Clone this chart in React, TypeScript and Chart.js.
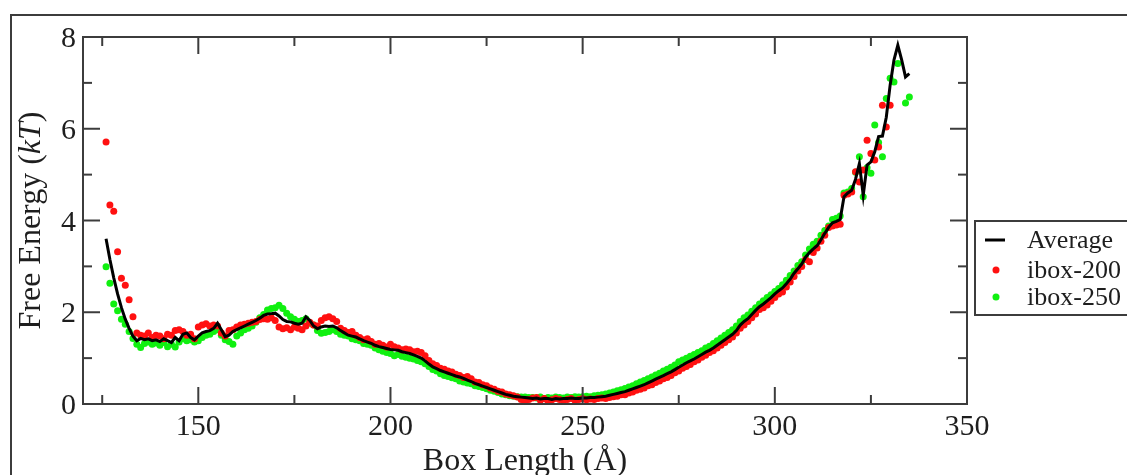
import React, { useEffect, useRef } from 'react';
import { Chart, registerables } from 'chart.js';

Chart.register(...registerables);

// Box length (Å) sampled along the x axis
const BOX_LENGTH = [
  126, 127, 128, 129, 130, 131, 132, 133, 134, 135,
  136, 137, 138, 139, 140, 141, 142, 143, 144, 145,
  146, 147, 148, 149, 150, 151, 152, 153, 154, 155,
  156, 157, 158, 159, 160, 161, 162, 163, 164, 165,
  166, 167, 168, 169, 170, 171, 172, 173, 174, 175,
  176, 177, 178, 179, 180, 181, 182, 183, 184, 185,
  186, 187, 188, 189, 190, 191, 192, 193, 194, 195,
  196, 197, 198, 199, 200, 201, 202, 203, 204, 205,
  206, 207, 208, 209, 210, 211, 212, 213, 214, 215,
  216, 217, 218, 219, 220, 221, 222, 223, 224, 225,
  226, 227, 228, 229, 230, 231, 232, 233, 234, 235,
  236, 237, 238, 239, 240, 241, 242, 243, 244, 245,
  246, 247, 248, 249, 250, 251, 252, 253, 254, 255,
  256, 257, 258, 259, 260, 261, 262, 263, 264, 265,
  266, 267, 268, 269, 270, 271, 272, 273, 274, 275,
  276, 277, 278, 279, 280, 281, 282, 283, 284, 285,
  286, 287, 288, 289, 290, 291, 292, 293, 294, 295,
  296, 297, 298, 299, 300, 301, 302, 303, 304, 305,
  306, 307, 308, 309, 310, 311, 312, 313, 314, 315,
  316, 317, 318, 319, 320, 321, 322, 323, 324, 325,
  326, 327, 328, 329, 330, 331, 332, 333, 334, 335,
];

// Free energy (kT) – average curve
const AVERAGE = [
  3.60, 3.15, 2.75, 2.40, 2.10, 1.85, 1.65, 1.48, 1.38, 1.43,
  1.40, 1.42, 1.38, 1.40, 1.36, 1.42, 1.38, 1.34, 1.45, 1.38,
  1.52, 1.55, 1.45, 1.40, 1.48, 1.55, 1.58, 1.60, 1.65, 1.76,
  1.62, 1.47, 1.50, 1.58, 1.62, 1.66, 1.70, 1.74, 1.78, 1.82,
  1.87, 1.93, 1.96, 1.97, 1.98, 1.92, 1.84, 1.80, 1.79, 1.76,
  1.74, 1.76, 1.90, 1.82, 1.70, 1.64, 1.68, 1.70, 1.69, 1.70,
  1.66, 1.60, 1.55, 1.50, 1.48, 1.46, 1.42, 1.38, 1.35, 1.32,
  1.28, 1.25, 1.23, 1.21, 1.19, 1.18, 1.17, 1.14, 1.12, 1.10,
  1.07, 1.04, 1.00, 0.94, 0.87, 0.81, 0.77, 0.73, 0.70, 0.67,
  0.64, 0.61, 0.59, 0.56, 0.52, 0.49, 0.45, 0.42, 0.39, 0.36,
  0.33, 0.30, 0.27, 0.24, 0.21, 0.19, 0.17, 0.16, 0.15, 0.14,
  0.13, 0.12, 0.13, 0.11, 0.12, 0.12, 0.10, 0.12, 0.11, 0.12,
  0.12, 0.13, 0.12, 0.12, 0.13, 0.13, 0.14, 0.14, 0.15, 0.16,
  0.17, 0.19, 0.21, 0.23, 0.25, 0.27, 0.30, 0.33, 0.36, 0.39,
  0.42, 0.46, 0.50, 0.54, 0.58, 0.62, 0.66, 0.70, 0.75, 0.80,
  0.85, 0.90, 0.94, 0.98, 1.03, 1.08, 1.13, 1.17, 1.22, 1.28,
  1.34, 1.40, 1.46, 1.52, 1.60, 1.72, 1.80, 1.86, 1.95, 2.04,
  2.12, 2.18, 2.25, 2.32, 2.40, 2.47, 2.53, 2.62, 2.72, 2.85,
  2.95, 3.05, 3.20, 3.30, 3.38, 3.45, 3.58, 3.72, 3.85, 3.95,
  3.98, 4.02, 4.52, 4.60, 4.66, 4.90, 5.24, 4.55, 5.21, 5.28,
  5.50, 5.83, 5.84, 6.25, 6.95, 7.50, 7.82, 7.50, 7.13, 7.20,
];

// Free energy (kT) – ibox-200 run
const IBOX_200 = [
  5.71, 4.34, 4.20, 3.32, 2.74, 2.59, 2.27, 1.90, 1.55, 1.50,
  1.48, 1.55, 1.45, 1.50, 1.48, 1.42, 1.52, 1.50, 1.60, 1.62,
  1.58, 1.50, 1.52, 1.42, 1.68, 1.72, 1.75, 1.70, 1.72, 1.70,
  1.55, 1.48, 1.60, 1.62, 1.68, 1.72, 1.74, 1.76, 1.78, 1.80,
  1.84, 1.86, 1.85, 1.88, 1.82, 1.68, 1.64, 1.66, 1.62, 1.68,
  1.65, 1.62, 1.70, 1.78, 1.72, 1.70, 1.82, 1.88, 1.90, 1.86,
  1.80, 1.65, 1.60, 1.56, 1.58, 1.50, 1.45, 1.40, 1.42, 1.36,
  1.30, 1.32, 1.28, 1.24, 1.30, 1.25, 1.22, 1.18, 1.20, 1.18,
  1.14, 1.15, 1.12, 1.05, 0.95, 0.88, 0.84, 0.78, 0.76, 0.72,
  0.70, 0.65, 0.62, 0.58, 0.60, 0.55, 0.48, 0.47, 0.42, 0.40,
  0.35, 0.32, 0.28, 0.26, 0.22, 0.20, 0.18, 0.15, 0.10, 0.05,
  0.10, 0.13, 0.14, 0.08, 0.12, 0.05, 0.09, 0.12, 0.10, 0.07,
  0.10, 0.12, 0.08, 0.10, 0.12, 0.09, 0.11, 0.10, 0.12, 0.13,
  0.12, 0.14, 0.16, 0.17, 0.20, 0.20, 0.24, 0.26, 0.30, 0.32,
  0.35, 0.40, 0.42, 0.47, 0.50, 0.55, 0.58, 0.62, 0.68, 0.72,
  0.78, 0.82, 0.86, 0.92, 0.96, 1.02, 1.06, 1.12, 1.16, 1.22,
  1.28, 1.34, 1.40, 1.46, 1.55, 1.65, 1.72, 1.80, 1.88, 1.96,
  2.06, 2.10, 2.16, 2.24, 2.32, 2.40, 2.44, 2.55, 2.66, 2.78,
  2.90, 3.00, 3.15, 3.10, 3.30, 3.40, 3.55, 3.68, 3.85, 3.88,
  3.90, 3.92, 4.55, 4.58, 4.62, 5.06, 4.84, 5.10, 5.75, 5.46,
  5.32, 5.60, 6.51, 6.04, 6.51, null, null, null, null, null,
];

// Free energy (kT) – ibox-250 run
const IBOX_250 = [
  2.99, 2.63, 2.18, 2.03, 1.85, 1.74, 1.58, 1.43, 1.30, 1.23,
  1.32, 1.35, 1.30, 1.33, 1.28, 1.34, 1.25, 1.30, 1.24, 1.35,
  1.42, 1.38, 1.40, 1.35, 1.38, 1.45, 1.50, 1.52, 1.58, 1.62,
  1.50, 1.40, 1.36, 1.30, 1.48, 1.55, 1.62, 1.65, 1.70, 1.78,
  1.88, 1.95, 2.05, 2.08, 2.10, 2.15, 2.08, 1.98, 1.90, 1.85,
  1.80, 1.82, 1.86, 1.76, 1.72, 1.60, 1.54, 1.56, 1.58, 1.62,
  1.58, 1.52, 1.50, 1.48, 1.42, 1.40, 1.38, 1.32, 1.30, 1.28,
  1.22, 1.18, 1.15, 1.12, 1.10, 1.05, 1.08, 1.04, 1.02, 1.00,
  0.98, 0.95, 0.92, 0.88, 0.82, 0.75, 0.72, 0.66, 0.62, 0.60,
  0.57, 0.55, 0.50, 0.48, 0.46, 0.44, 0.40, 0.38, 0.36, 0.33,
  0.30, 0.28, 0.25, 0.22, 0.20, 0.18, 0.17, 0.16, 0.15, 0.15,
  0.14, 0.14, 0.13, 0.15, 0.12, 0.14, 0.13, 0.15, 0.14, 0.13,
  0.15, 0.14, 0.16, 0.15, 0.16, 0.17, 0.16, 0.18, 0.19, 0.20,
  0.22, 0.24, 0.26, 0.29, 0.31, 0.34, 0.37, 0.40, 0.44, 0.48,
  0.51, 0.55, 0.59, 0.63, 0.67, 0.72, 0.76, 0.80, 0.85, 0.92,
  0.96, 1.00, 1.04, 1.08, 1.12, 1.16, 1.22, 1.26, 1.32, 1.38,
  1.44, 1.50, 1.56, 1.62, 1.70, 1.80, 1.88, 1.94, 2.02, 2.10,
  2.18, 2.25, 2.32, 2.38, 2.45, 2.52, 2.60, 2.70, 2.80, 2.90,
  3.02, 3.10, 3.25, 3.38, 3.48, 3.55, 3.68, 3.78, 3.88, 4.02,
  4.05, 4.10, 4.60, 4.62, 4.70, 5.05, 5.39, 4.52, 5.15, 5.03,
  6.08, 5.70, 5.39, 6.66, 7.10, 7.02, 7.42, null, 6.56, 6.69,
];

const SERIES_LABELS = ['Average', 'ibox-200', 'ibox-250'];
const X_MAJOR_TICKS = [150, 200, 250, 300, 350];
const X_TICK_LABELS = ['150', '200', '250', '300', '350'];
const X_MINOR_TICKS = [125, 175, 225, 275, 325];
const Y_MAJOR_TICKS = [0, 2, 4, 6, 8];
const Y_TICK_LABELS = ['0', '2', '4', '6', '8'];
const Y_MINOR_TICKS = [1, 3, 5, 7];
const X_TITLE = 'Box Length (Å)';
const Y_TITLE_PARTS = [
  { text: 'Free Energy (', italic: false },
  { text: 'kT', italic: true },
  { text: ')', italic: false },
];

const FONT = '"Liberation Serif", "Times New Roman", serif';
const AXIS_COLOR = '#3c3c3c';
const TEXT_COLOR = '#1e1e1e';
const RED = '#ff1010';
const GREEN = '#10f010';
const MAJOR_LEN = 17;
const MINOR_LEN = 9;
const POINT_R = 3.5;

const toPoints = (ys: (number | null)[]) =>
  BOX_LENGTH.map((x, i) => ({ x, y: ys[i] })).filter((p) => p.y !== null);

const decorPlugin = {
  id: 'decor',
  afterDraw(chart: any) {
    const { ctx, chartArea: a, scales } = chart;
    const xs = scales.x;
    const ys = scales.y;
    ctx.save();

    // outer figure frame
    ctx.strokeStyle = AXIS_COLOR;
    ctx.lineWidth = 2;
    ctx.strokeRect(11, 15, 1300, 600);

    // plot border
    ctx.strokeRect(a.left, a.top, a.right - a.left, a.bottom - a.top);

    const seg = (x1: number, y1: number, x2: number, y2: number) => {
      ctx.beginPath();
      ctx.moveTo(x1, y1);
      ctx.lineTo(x2, y2);
      ctx.stroke();
    };
    const xTick = (v: number, len: number) => {
      const px = xs.getPixelForValue(v);
      seg(px, a.bottom, px, a.bottom - len);
      seg(px, a.top, px, a.top + len);
    };
    const yTick = (v: number, len: number) => {
      const py = ys.getPixelForValue(v);
      seg(a.left, py, a.left + len, py);
      seg(a.right, py, a.right - len, py);
    };
    X_MAJOR_TICKS.forEach((v) => xTick(v, MAJOR_LEN));
    X_MINOR_TICKS.forEach((v) => xTick(v, MINOR_LEN));
    Y_MAJOR_TICKS.forEach((v) => yTick(v, MAJOR_LEN));
    Y_MINOR_TICKS.forEach((v) => yTick(v, MINOR_LEN));

    // tick labels
    ctx.fillStyle = TEXT_COLOR;
    ctx.font = `30px ${FONT}`;
    ctx.textBaseline = 'alphabetic';
    ctx.textAlign = 'center';
    X_MAJOR_TICKS.forEach((v, i) => {
      ctx.fillText(X_TICK_LABELS[i], xs.getPixelForValue(v), a.bottom + 31);
    });
    ctx.textAlign = 'right';
    Y_MAJOR_TICKS.forEach((v, i) => {
      ctx.fillText(Y_TICK_LABELS[i], a.left - 7, ys.getPixelForValue(v) + 10);
    });

    // x title
    ctx.font = `32px ${FONT}`;
    ctx.textAlign = 'center';
    ctx.fillText(X_TITLE, (a.left + a.right) / 2, 470);

    // y title (rotated, with italic kT)
    ctx.save();
    ctx.translate(40, (a.top + a.bottom) / 2);
    ctx.rotate(-Math.PI / 2);
    ctx.textAlign = 'left';
    const fontFor = (it: boolean) => `${it ? 'italic ' : ''}32px ${FONT}`;
    let total = 0;
    Y_TITLE_PARTS.forEach((p) => {
      ctx.font = fontFor(p.italic);
      total += ctx.measureText(p.text).width;
    });
    let cx = -total / 2;
    Y_TITLE_PARTS.forEach((p) => {
      ctx.font = fontFor(p.italic);
      ctx.fillText(p.text, cx, 0);
      cx += ctx.measureText(p.text).width;
    });
    ctx.restore();

    // legend
    ctx.strokeStyle = AXIS_COLOR;
    ctx.lineWidth = 2;
    ctx.strokeRect(975, 221, 400, 94);
    ctx.font = `26px ${FONT}`;
    ctx.textAlign = 'left';
    ctx.fillStyle = TEXT_COLOR;
    const rows = [240, 270, 297];
    // Average
    ctx.strokeStyle = '#000';
    ctx.lineWidth = 3;
    seg(985, rows[0], 1005, rows[0]);
    ctx.fillText(SERIES_LABELS[0], 1027, rows[0] + 8);
    // ibox-200
    ctx.fillStyle = RED;
    ctx.beginPath();
    ctx.arc(996, rows[1], POINT_R, 0, Math.PI * 2);
    ctx.fill();
    ctx.fillStyle = TEXT_COLOR;
    ctx.fillText(SERIES_LABELS[1], 1027, rows[1] + 8);
    // ibox-250
    ctx.fillStyle = GREEN;
    ctx.beginPath();
    ctx.arc(996, rows[2], POINT_R, 0, Math.PI * 2);
    ctx.fill();
    ctx.fillStyle = TEXT_COLOR;
    ctx.fillText(SERIES_LABELS[2], 1027, rows[2] + 8);

    ctx.restore();
  },
};

export default function App() {
  const canvasRef = useRef<HTMLCanvasElement | null>(null);

  useEffect(() => {
    const canvas = canvasRef.current;
    if (!canvas) return;
    const chart = new Chart(canvas, {
      type: 'scatter',
      data: {
        datasets: [
          {
            label: SERIES_LABELS[0],
            data: toPoints(AVERAGE),
            showLine: true,
            borderColor: '#000000',
            borderWidth: 3,
            pointRadius: 0,
            pointHoverRadius: 0,
            tension: 0,
            fill: false,
          } as any,
          {
            label: SERIES_LABELS[1],
            data: toPoints(IBOX_200),
            showLine: false,
            pointRadius: POINT_R,
            pointBorderWidth: 0,
            pointBackgroundColor: RED,
            backgroundColor: RED,
            borderColor: RED,
          },
          {
            label: SERIES_LABELS[2],
            data: toPoints(IBOX_250),
            showLine: false,
            pointRadius: POINT_R,
            pointBorderWidth: 0,
            pointBackgroundColor: GREEN,
            backgroundColor: GREEN,
            borderColor: GREEN,
          },
        ],
      },
      options: {
        responsive: false,
        animation: false,
        layout: { padding: { left: 83, top: 37, right: 160, bottom: 71 } },
        plugins: {
          legend: { display: false },
          tooltip: { enabled: false },
        },
        events: [],
        scales: {
          x: { type: 'linear', min: 120, max: 350, display: false },
          y: { type: 'linear', min: 0, max: 8, display: false },
        },
      },
      plugins: [decorPlugin],
    });
    return () => chart.destroy();
  }, []);

  return (
    <div style={{ position: 'absolute', left: 0, top: 0, width: 1127, height: 475, background: '#fff' }}>
      <canvas ref={canvasRef} width={1127} height={475} style={{ display: 'block' }} />
    </div>
  );
}
